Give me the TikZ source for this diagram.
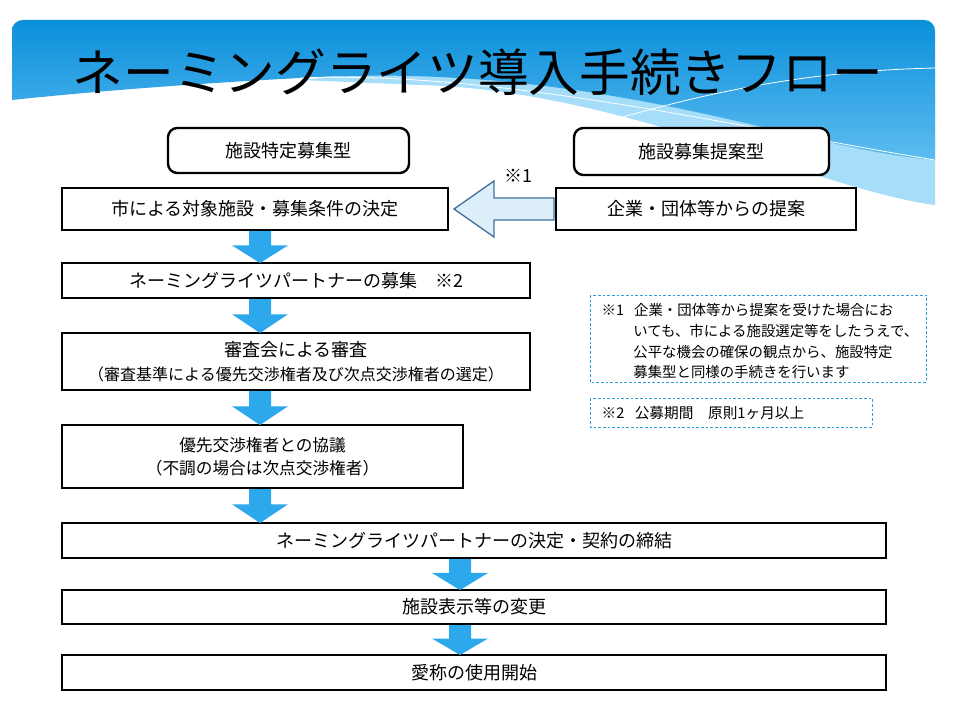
\documentclass[tikz,border=0pt]{standalone}
\usepackage{fontspec}
\setmainfont{Noto Sans CJK JP}
\definecolor{hdrA}{HTML}{0B8FDB}
\definecolor{hdrB}{HTML}{5DBDF0}
\definecolor{hdrC}{HTML}{A6DDF8}
\definecolor{arr}{HTML}{2EA8EC}
\definecolor{harr}{HTML}{DCEFFB}
\definecolor{harrd}{HTML}{41719C}
\definecolor{dash}{HTML}{2E9BE0}
\tikzset{
 box/.style={draw=black,line width=1.2pt,fill=white},
 rbox/.style={box,rounded corners=7pt,line width=1.8pt},
 note/.style={draw=dash,line width=0.7pt,dash pattern=on 2pt off 1.5pt},
 txt/.style={font=\fontsize{13.5}{17}\selectfont,align=center},
}
\newcommand{\darrow}[3]{% x, ytop, ybot
 \fill[arr] (#1-11,#2) -- (#1+11,#2) -- (#1+11,#2+0.45*#3-0.45*#2) -- (#1+28,#2+0.45*#3-0.45*#2) -- (#1,#3) -- (#1-28,#2+0.45*#3-0.45*#2) -- (#1-11,#2+0.45*#3-0.45*#2) -- cycle;}
\begin{document}
\begin{tikzpicture}[x=0.75pt,y=-0.75pt]
\useasboundingbox (0,0) rectangle (955,713);
\fill[white] (0,0) rectangle (955,713);
% header: light band below, then main gradient
\fill[hdrC] (935,70) -- (935,205) .. controls (820,190) and (620,90) .. (420,85) -- (300,80) .. controls (500,60) and (750,60) .. cycle;
\shade[top color=hdrA,bottom color=hdrB] (12,60) [rounded corners=8pt] -- (12,20) -- (935,20) [sharp corners] -- (935,160) .. controls (800,150) and (600,60) .. (300,78) .. controls (150,86) and (60,95) .. (12,100) -- cycle;
\draw[white,line width=0.6pt] (300,78) .. controls (500,70) and (750,130) .. (935,160);
\draw[white,line width=0.6pt] (620,118) .. controls (750,80) and (850,70) .. (935,68);
\node (title) at (478,72) {\fontsize{38}{40}\selectfont ネーミングライツ導入手続きフロー};
% top boxes
\draw[rbox] (168,128) rectangle (409,173);
\node[txt] (t1) at (288.5,150.5) {施設特定募集型};
\draw[rbox] (574,128) rectangle (829,175);
\node[txt] (t2) at (701.5,151.5) {施設募集提案型};
% boxes
\draw[box] (62,188) rectangle (448,230); \node[txt] (b1) at (255,209) {市による対象施設・募集条件の決定};
\draw[box] (556,188) rectangle (856,230); \node[txt] (b2) at (706,209) {企業・団体等からの提案};
\draw[fill=harr,draw=harrd,line width=1pt] (554,198) -- (494,198) -- (494,181) -- (454,209) -- (494,237) -- (494,220) -- (554,220) -- cycle;
\node[txt] (n1) at (518,176) {※1};
\draw[box] (62,263) rectangle (530,298); \node[txt] (b3) at (296,280.5) {ネーミングライツパートナーの募集\quad ※2};
\draw[box] (62,333) rectangle (530,390);
\node[txt] (b4) at (296,361.5) {審査会による審査\\[1pt]{\fontsize{12}{15}\selectfont （審査基準による優先交渉権者及び次点交渉権者の選定）}};
\draw[box] (62,425) rectangle (463,488);
\node[txt,font=\fontsize{12.5}{17}\selectfont] (b5) at (262.5,456.5) {優先交渉権者との協議\\（不調の場合は次点交渉権者）};
\draw[box] (62,523) rectangle (886,558); \node[txt] (b6) at (474,540.5) {ネーミングライツパートナーの決定・契約の締結};
\draw[box] (62,590) rectangle (886,624); \node[txt] (b7) at (474,607) {施設表示等の変更};
\draw[box] (62,655) rectangle (886,690); \node[txt] (b8) at (474,672.5) {愛称の使用開始};
% down arrows
\darrow{260}{231}{263}
\darrow{260}{299}{333}
\darrow{260}{391}{425}
\darrow{260}{489}{523}
\darrow{460}{559}{590}
\darrow{460}{625}{655}
% notes
\draw[note] (590,295) rectangle (926,382);
\node[anchor=north west,font=\fontsize{10.8}{15.5}\selectfont,align=left] (nt1) at (597,299) {※1\hspace{0.7em}企業・団体等から提案を受けた場合にお\\\hspace{2.2em}いても、市による施設選定等をしたうえで、\\\hspace{2.2em}公平な機会の確保の観点から、施設特定\\\hspace{2.2em}募集型と同様の手続きを行います};
\draw[note] (590,398) rectangle (872,427);
\node[anchor=west,font=\fontsize{11}{15}\selectfont] (nt2) at (597,412.5) {※2\hspace{0.7em}公募期間\quad 原則1ヶ月以上};
\end{tikzpicture}
\end{document}
